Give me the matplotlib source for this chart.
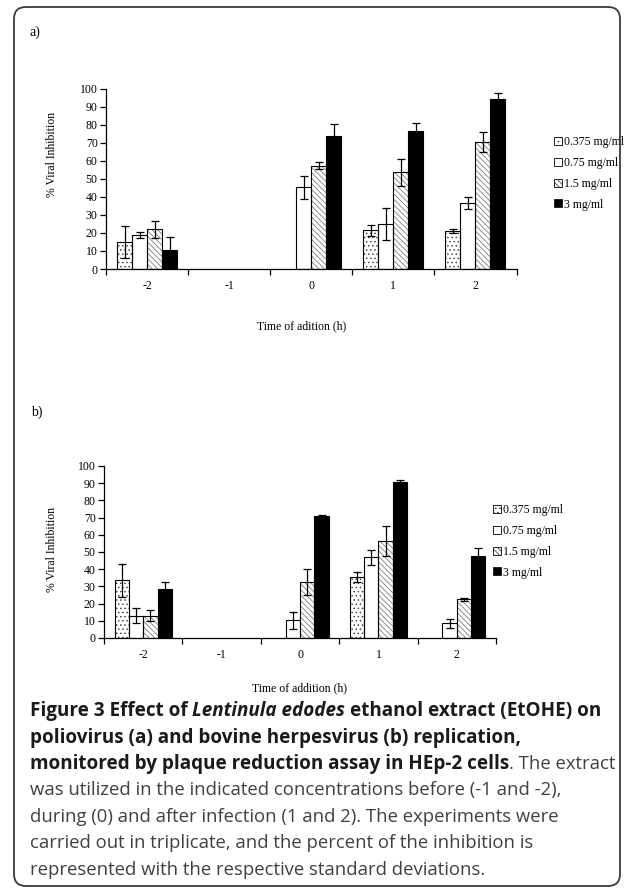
import numpy as np
import matplotlib
matplotlib.use("Agg")
import matplotlib.pyplot as plt
from matplotlib.patches import FancyBboxPatch, Patch

# --- data ---
times = ["-2", "-1", "0", "1", "2"]
concs = ["0.375 mg/ml", "0.75 mg/ml", "1.5 mg/ml", "3 mg/ml"]

# panel a: poliovirus (nan = no bar)
polio_mean = {
    "0.375 mg/ml": [15.1, np.nan, np.nan, 21.4, 20.9],
    "0.75 mg/ml":  [19.0, np.nan, 45.3, 24.8, 36.4],
    "1.5 mg/ml":   [22.0, np.nan, 57.4, 53.6, 70.6],
    "3 mg/ml":     [10.4, np.nan, 73.8, 76.7, 94.3],
}
polio_sd = {
    "0.375 mg/ml": [8.8, np.nan, np.nan, 2.9, 1.1],
    "0.75 mg/ml":  [1.6, np.nan, 6.2, 8.8, 3.3],
    "1.5 mg/ml":   [4.6, np.nan, 1.7, 7.4, 5.5],
    "3 mg/ml":     [7.2, np.nan, 6.4, 4.1, 3.3],
}
# panel b: bovine herpesvirus
bhv_mean = {
    "0.375 mg/ml": [33.5, np.nan, np.nan, 35.3, np.nan],
    "0.75 mg/ml":  [13.0, np.nan, 10.3, 46.9, 8.5],
    "1.5 mg/ml":   [13.0, np.nan, 32.6, 56.4, 22.5],
    "3 mg/ml":     [28.3, np.nan, 70.7, 90.7, 47.7],
}
bhv_sd = {
    "0.375 mg/ml": [9.5, np.nan, np.nan, 3.0, np.nan],
    "0.75 mg/ml":  [4.4, np.nan, 5.0, 4.4, 2.5],
    "1.5 mg/ml":   [3.4, np.nan, 7.5, 8.7, 1.0],
    "3 mg/ml":     [4.3, np.nan, 1.0, 1.2, 4.4],
}

W, H = 633, 890
fig = plt.figure(figsize=(W / 100, H / 100), dpi=100)
plt.rcParams["hatch.linewidth"] = 0.5

SERIF = "Liberation Serif"
FS = 8.5
styles = {
    "0.375 mg/ml": dict(face="white", hatch="....", hc="#333333"),
    "0.75 mg/ml":  dict(face="white", hatch=None, hc="black"),
    "1.5 mg/ml":   dict(face="white", hatch="\\\\\\\\\\\\", hc="#666666"),
    "3 mg/ml":     dict(face="black", hatch=None, hc="black"),
}


def px_axes(l, t, r, b):
    return fig.add_axes([l / W, 1 - b / H, (r - l) / W, (b - t) / H])


def draw_panel(ax, means, sds, legend_xy):
    x = np.arange(len(times))
    bw = 0.183
    for i, c in enumerate(concs):
        m = np.array(means[c], dtype=float)
        s = np.array(sds[c], dtype=float)
        ok = ~np.isnan(m)
        xs = x[ok] + (i - 1.5) * bw
        st = styles[c]
        ax.bar(xs, m[ok], bw, color=st["face"], hatch=st["hatch"],
               edgecolor=st["hc"], linewidth=0, zorder=2)
        ax.bar(xs, m[ok], bw, fill=False, edgecolor="black", linewidth=0.8, zorder=3)
        ax.errorbar(xs, m[ok], yerr=s[ok], fmt="none", ecolor="black",
                    elinewidth=0.9, capsize=3, capthick=0.9, zorder=4)
    ax.set_xlim(-0.5, len(times) - 0.5)
    ax.set_ylim(0, 100)
    ax.set_yticks(range(0, 101, 10))
    ax.set_xticks(np.arange(-0.5, len(times), 1))
    ax.set_xticklabels([])
    ax.set_xticks(x, minor=True)
    ax.set_xticklabels(times, minor=True)
    ax.tick_params(axis="x", which="minor", length=0, pad=8)
    ax.tick_params(axis="x", which="major", length=4, width=0.9, direction="out")
    ax.tick_params(axis="y", length=4, width=0.9, direction="out", pad=2)
    for lab in ax.get_yticklabels() + ax.get_xticklabels(minor=True):
        lab.set_fontfamily(SERIF)
        lab.set_fontsize(FS)
    for sp in ("top", "right"):
        ax.spines[sp].set_visible(False)
    for sp in ("left", "bottom"):
        ax.spines[sp].set_linewidth(0.9)
    handles = [Patch(facecolor=styles[c]["face"], hatch=styles[c]["hatch"],
                     edgecolor="#222222", linewidth=0.7) for c in concs]
    ax.legend(handles, concs, loc="upper left",
              bbox_to_anchor=(legend_xy[0] / W, 1 - legend_xy[1] / H),
              bbox_transform=fig.transFigure, frameon=False,
              prop={"family": SERIF, "size": FS}, handlelength=0.66,
              handleheight=0.66, handletextpad=0.15, labelspacing=0.75,
              borderpad=0, borderaxespad=0)


ax_a = px_axes(106, 88.7, 516.5, 269)
draw_panel(ax_a, polio_mean, polio_sd, (554, 136))
ax_b = px_axes(104, 466, 496, 638)
draw_panel(ax_b, bhv_mean, bhv_sd, (493, 504))

# --- overlay for border, labels and caption (pixel coords) ---
ov = fig.add_axes([0, 0, 1, 1])
ov.set_xlim(0, W)
ov.set_ylim(H, 0)
ov.axis("off")
ov.patch.set_alpha(0)

ov.add_patch(FancyBboxPatch((14, 7), 606, 879,
                            boxstyle="round,pad=0,rounding_size=12",
                            facecolor="none", edgecolor="#3a3a3a", linewidth=1.3))

ov.text(30, 32, "a)", family=SERIF, fontsize=10, va="center", ha="left")
ov.text(31, 412, "b)", family=SERIF, fontsize=10, va="center", ha="left")
ov.text(52, 154, "% Viral Inhibition", family=SERIF, fontsize=FS, rotation=90,
        va="center", ha="center")
ov.text(52, 549, "% Viral Inhibition", family=SERIF, fontsize=FS, rotation=90,
        va="center", ha="center")
ov.text(302, 326, "Time of adition (h)", family=SERIF, fontsize=FS,
        va="center", ha="center")
ov.text(300, 688, "Time of addition (h)", family=SERIF, fontsize=FS,
        va="center", ha="center")

# caption with mixed styles
CAP = "Open Sans"
SIZE = {"bold": 13.6, "normal": 13.3}
BOLD_C = "#1a1a1a"
REG_C = "#404040"
caption = [
    [("Figure 3 Effect of", "bold", "normal"), ("Lentinula edodes", "bold", "italic"),
     ("ethanol extract (EtOHE) on", "bold", "normal")],
    [("poliovirus (a) and bovine herpesvirus (b) replication,", "bold", "normal")],
    [("monitored by plaque reduction assay in HEp-2 cells", "bold", "normal"),
     (". The extract", "normal", "normal")],
    [("was utilized in the indicated concentrations before (-1 and -2),", "normal", "normal")],
    [("during (0) and after infection (1 and 2). The experiments were", "normal", "normal")],
    [("carried out in triplicate, and the percent of the inhibition is", "normal", "normal")],
    [("represented with the respective standard deviations.", "normal", "normal")],
]

renderer = fig.canvas.get_renderer()


def text_w(s, weight, style):
    t = ov.text(0, 0, s, family=CAP, fontsize=SIZE[weight], weight=weight, style=style)
    bb = t.get_window_extent(renderer)
    t.remove()
    return bb.width


y0, dy = 711, 26.5
for li, segs in enumerate(caption):
    x = 30
    y = y0 + li * dy
    for si, (s, wt, stl) in enumerate(segs):
        if si > 0 and not s.startswith("."):
            x += text_w("x x", wt, stl) - text_w("xx", wt, stl)
        col = BOLD_C if wt == "bold" else REG_C
        ov.text(x, y, s, family=CAP, fontsize=SIZE[wt], weight=wt, style=stl,
                color=col, va="center", ha="left")
        x += text_w(s, wt, stl)

fig.savefig("out.png", dpi=100)
